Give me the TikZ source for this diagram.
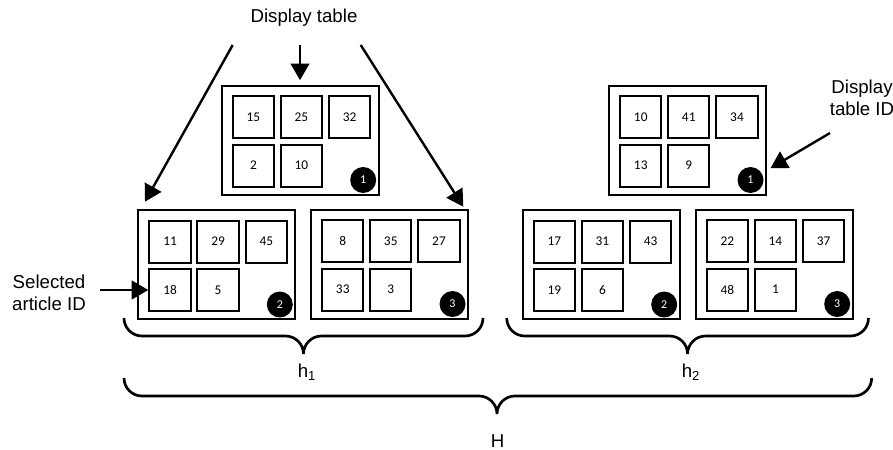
\documentclass[tikz,border=0pt]{standalone}
\usepackage{fontspec}
\setmainfont{Liberation Sans}
\newfontfamily\numfont{Carlito}
\usetikzlibrary{arrows.meta}

\tikzset{
  tbl/.style={draw, line width=1.5pt, minimum width=117.75pt, minimum height=81.75pt,
              inner sep=0pt, outer sep=0pt, anchor=north west},
  art/.style={draw, line width=1.5pt, minimum width=31.1pt, minimum height=31.5pt,
              inner sep=0pt, font=\numfont\fontsize{10}{12}\selectfont},
  badge/.style={circle, fill=black, minimum size=19.5pt, inner sep=0pt, text=white,
                font=\numfont\fontsize{9}{10}\selectfont},
  arr/.style={line width=1.8pt, -{Triangle[length=12.5pt,width=14pt]}},
  brace/.style={line width=2pt, rounded corners=13.5pt},
  lbl/.style={font=\fontsize{14}{16.8}\selectfont, align=center, inner sep=0pt},
}

% one display table: name, top-left corner, five article IDs, table number
\newcommand\disptable[8]{%
  \begin{scope}[shift={#2}]
    \node[tbl] (#1) at (0,0) {};
    \node[art] (#1-1) at (31.75,31.5) {#3};
    \node[art] (#1-2) at (79.75,31.5) {#4};
    \node[art] (#1-3) at (128,31.5) {#5};
    \node[art] (#1-4) at (31.75,80) {#6};
    \node[art] (#1-5) at (79.75,80) {#7};
    \node[badge] (#1b) at (141.5,94.5) {#8};
  \end{scope}}

% curly brace opening downwards: left x, tip x, right x, top y
\newcommand\curlybrace[4]{%
  \draw[brace] (#1,#4) -- (#1,#4+18) -- (#2,#4+18) -- (#2,#4+36)
               (#3,#4) -- (#3,#4+18) -- (#2,#4+18) -- (#2,#4+36);}

\begin{document}
\begin{tikzpicture}[x=0.75pt, y=-0.75pt]
  \useasboundingbox (0,0) rectangle (893,450);

  % first group of tables
  \disptable{L1}{(221.7,85.5)}{15}{25}{32}{2}{10}{1}
  \disptable{L2}{(138.3,210)}{11}{29}{45}{18}{5}{2}
  \disptable{L3}{(311,209.5)}{8}{35}{27}{33}{3}{3}

  % second group of tables
  \disptable{R1}{(609,85.5)}{10}{41}{34}{13}{9}{1}
  \disptable{R2}{(522.7,210)}{17}{31}{43}{19}{6}{2}
  \disptable{R3}{(695.7,209.5)}{22}{14}{37}{48}{1}{3}

  % labels
  \node[lbl] (dt) at (304,18) {Display table};
  \node[lbl] (sa) at (49,293) {Selected\\article ID};
  \node[lbl] (dtid) at (862,98) {Display\\table ID};

  % arrows
  \coordinate (dtA) at (300,45);
  \coordinate (dtB) at (232.7,45);
  \coordinate (dtC) at (360.7,45);
  \coordinate (saA) at (100,290);
  \coordinate (idA) at (830,133);
  \draw[arr, shorten >=4pt] (dtA) -- (dtA |- L1.north);
  \draw[arr] (dtB) -- ([shift={(6.7,-8.3)}]L2.north west);
  \draw[arr] (dtC) -- ([shift={(-4.7,-2.8)}]L3.north east);
  \draw[arr] (saA) -- (L2-4.west);
  \draw[arr, shorten >=7.5pt] (idA) -- (R1b);

  % braces and their labels
  \curlybrace{124}{303.5}{483}{318}
  \curlybrace{506.7}{687.6}{868.5}{318}
  \curlybrace{124}{497}{871.7}{378}
  \node[lbl] (h1) at (307,372) {h\textsubscript{1}};
  \node[lbl] (h2) at (691,372) {h\textsubscript{2}};
  \node[lbl] (H) at (497.5,441.5) {H};
\end{tikzpicture}
\end{document}
